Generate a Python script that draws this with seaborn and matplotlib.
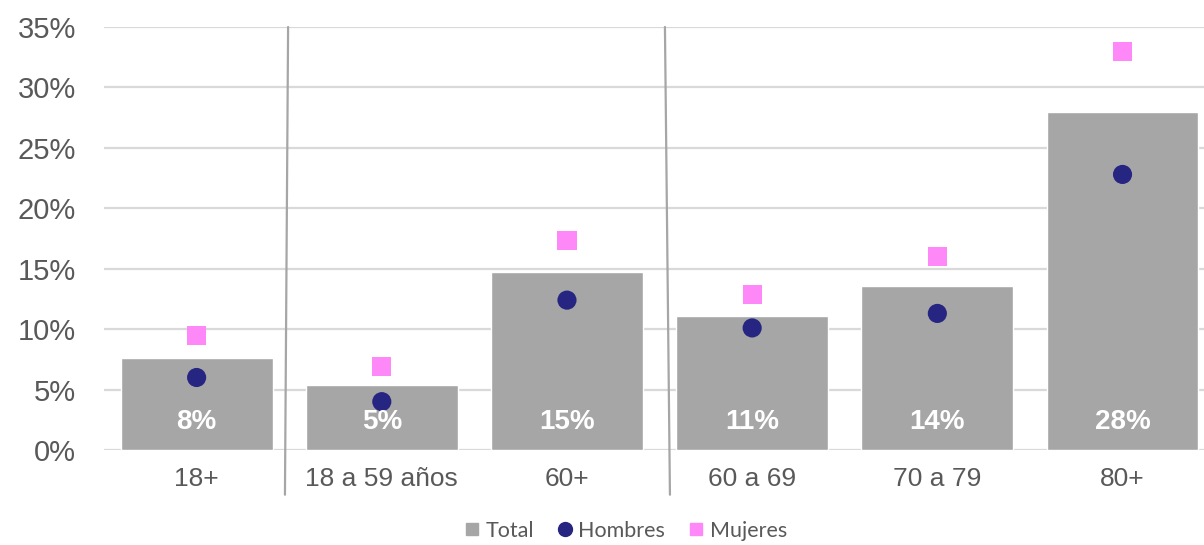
import numpy as np
import matplotlib
matplotlib.use("Agg")
import matplotlib.pyplot as plt
import matplotlib.lines as mlines
import pandas as pd
import seaborn as sns

# data
categorias = ["18+", "18 a 59 años", "60+", "60 a 69", "70 a 79", "80+"]
total = [7.6, 5.4, 14.7, 11.1, 13.6, 28.0]
hombres = [6.0, 4.0, 12.4, 10.1, 11.3, 22.8]
mujeres = [9.5, 6.9, 17.3, 12.9, 16.0, 33.0]
etiquetas = ["8%", "5%", "15%", "11%", "14%", "28%"]

gris = "#A6A6A6"
azul = "#262682"
rosa = "#FF88F8"
texto = "#595959"

sns.set_style("white")
plt.rcParams["font.family"] = ["Liberation Sans", "DejaVu Sans"]

df = pd.DataFrame({"categoria": categorias, "total": total,
                   "hombres": hombres, "mujeres": mujeres})

fig = plt.figure(figsize=(12.04, 5.45), dpi=100)
ax = fig.add_axes([0.0864, 0.1743, 0.9136, 0.7762])

#grid first
for v in range(0, 36, 5):
    ax.axhline(v, color="#D9D9D9", lw=1.6, zorder=0)

sns.barplot(data=df, x="categoria", y="total", color=gris, width=0.82,
            saturation=1, ax=ax, zorder=2)
sns.scatterplot(data=df, x="categoria", y="hombres", color=azul, marker="o",
                s=190, edgecolor="none", ax=ax, zorder=3)
sns.scatterplot(data=df, x="categoria", y="mujeres", color=rosa, marker="s",
                s=190, edgecolor="none", ax=ax, zorder=3)

#bar labels
for i, lab in enumerate(etiquetas):
    ax.text(i, 2.3, lab, ha="center", va="center", color="white",
            fontsize=20, fontweight="bold", zorder=4)

#separators (slightly slanted like the original)
for x0, x1 in [(0.494, 0.477), (2.529, 2.556)]:
    ax.plot([x0, x1], [35, -3.7], color="#A6A6A6", lw=1.6, clip_on=False, zorder=1)

ax.set_ylim(0, 35)
ax.set_xlim(-0.5, 5.44)
ax.set_yticks(range(0, 36, 5))
ax.set_yticklabels([f"{v}%" for v in range(0, 36, 5)])
ax.tick_params(axis="y", labelsize=21, colors=texto, length=0, pad=20)
ax.tick_params(axis="x", labelsize=19, colors=texto, length=0, pad=12)
ax.set_xlabel("")
ax.set_ylabel("")
for s in ax.spines.values():
    s.set_visible(False)

handles = [
    mlines.Line2D([], [], color=gris, marker="s", ls="", markersize=9, label="Total"),
    mlines.Line2D([], [], color=azul, marker="o", ls="", markersize=10, label="Hombres"),
    mlines.Line2D([], [], color=rosa, marker="s", ls="", markersize=9, label="Mujeres"),
]
leg = fig.legend(handles=handles, loc="lower center", bbox_to_anchor=(0.52, -0.028),
                 ncol=3, frameon=False, handlelength=0.6, handletextpad=0.35,
                 columnspacing=1.1, prop={"family": "Lato", "size": 15.5})
for t in leg.get_texts():
    t.set_color(texto)

fig.savefig("out.png", dpi=100)
